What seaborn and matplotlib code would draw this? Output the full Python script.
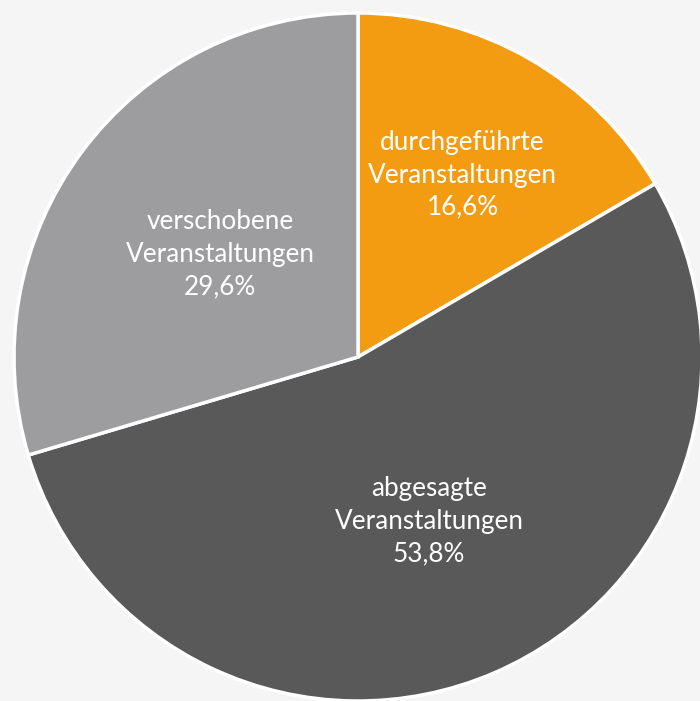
import numpy as np
import matplotlib
matplotlib.use("Agg")
import matplotlib.pyplot as plt
import seaborn as sns

sns.set_theme(style="white")
plt.rcParams['font.family'] = ['Lato', 'DejaVu Sans']

categories = ["durchgeführte\nVeranstaltungen", "abgesagte\nVeranstaltungen", "verschobene\nVeranstaltungen"]
values = [16.6, 53.8, 29.6]
pct_labels = ["16,6%", "53,8%", "29,6%"]
colors = ["#F39C12", "#595959", "#9D9D9F"]
label_dist = [0.61, 0.52, 0.50]

fig = plt.figure(figsize=(7.0, 7.01), dpi=100)
fig.patch.set_facecolor("#f5f5f5")
ax = fig.add_axes([14/700, 0.0, 688/700, 688/701])
ax.set_facecolor("none")

wedges, _ = ax.pie(values, colors=colors, startangle=90, counterclock=False,
                   radius=1.0, wedgeprops=dict(edgecolor="white", linewidth=2.5))
ax.set_xlim(-1, 1)
ax.set_ylim(-1, 1)
ax.set_aspect("auto")
ax.axis("off")

for w, cat, pct, d in zip(wedges, categories, pct_labels, label_dist):
    mid = np.deg2rad((w.theta1 + w.theta2) / 2)
    x, y = d * np.cos(mid), d * np.sin(mid)
    ax.text(x, y, f"{cat}\n{pct}", ha="center", va="center", color="white",
            fontsize=18.8, linespacing=1.36)

fig.savefig("out.png", dpi=100, facecolor=fig.get_facecolor())
